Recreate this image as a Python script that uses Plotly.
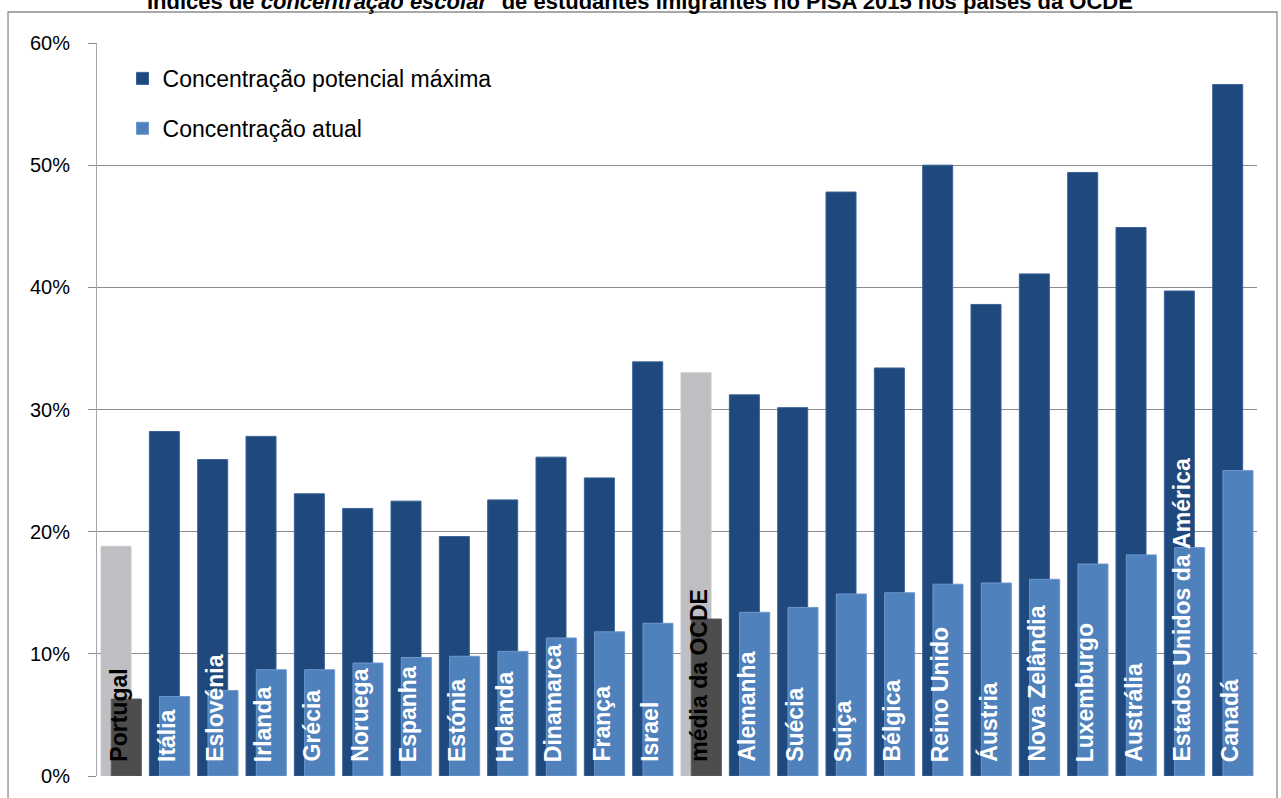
import plotly.graph_objects as go

countries = ["Portugal", "Itália", "Eslovénia", "Irlanda", "Grécia", "Noruega", "Espanha",
             "Estónia", "Holanda", "Dinamarca", "França", "Israel", "média da OCDE",
             "Alemanha", "Suécia", "Suiça", "Bélgica", "Reino Unido", "Áustria",
             "Nova Zelândia", "Luxemburgo", "Austrália", "Estados Unidos da América", "Canadá"]
max_potential = [18.8, 28.2, 25.9, 27.8, 23.1, 21.9, 22.5, 19.6, 22.6, 26.1, 24.4, 33.9, 33.0,
                 31.2, 30.15, 47.8, 33.4, 50.0, 38.6, 41.1, 49.4, 44.9, 39.7, 56.6]
actual = [6.3, 6.5, 7.0, 8.7, 8.7, 9.25, 9.7, 9.8, 10.2, 11.3, 11.8, 12.5, 12.85,
          13.4, 13.8, 14.9, 15.0, 15.7, 15.8, 16.1, 17.35, 18.1, 18.7, 25.0]
highlight = ["Portugal", "média da OCDE"]

title_text = ("<b>Índices de <i>concentração escolar</i><sup>1</sup> de estudantes imigrantes "
              "no PISA 2015 nos países da OCDE</b>")
legend_names = ["Concentração potencial máxima", "Concentração atual"]

DARK = "#1F497D"
LIGHT = "#4F81BD"
GREY_L = "#BFBFC3"
GREY_D = "#4D4D4D"
GRID = "#8C8C8C"
FONT = "Liberation Sans"

norm_idx = [i for i, c in enumerate(countries) if c not in highlight]
hi_idx = [i for i, c in enumerate(countries) if c in highlight]

W = 0.621
OFF_MAX = -0.417
OFF_ACT = -0.204

fig = go.Figure()
fig.add_trace(go.Bar(
    x=[countries[i] for i in norm_idx], y=[max_potential[i] for i in norm_idx],
    name=legend_names[0], marker=dict(color=DARK, line=dict(color="#3A6196", width=1)),
    width=W, offset=OFF_MAX, legendgroup="a", showlegend=True))
fig.add_trace(go.Bar(
    x=[countries[i] for i in hi_idx], y=[max_potential[i] for i in hi_idx],
    name=legend_names[0], marker=dict(color=GREY_L, line=dict(color="#C8C8CC", width=1)),
    width=W, offset=OFF_MAX, showlegend=False))
fig.add_trace(go.Bar(
    x=[countries[i] for i in norm_idx], y=[actual[i] for i in norm_idx],
    name=legend_names[1], marker=dict(color=LIGHT, line=dict(color="#6E98CC", width=1)),
    width=W, offset=OFF_ACT, legendgroup="b", showlegend=True))
fig.add_trace(go.Bar(
    x=[countries[i] for i in hi_idx], y=[actual[i] for i in hi_idx],
    name=legend_names[1], marker=dict(color=GREY_D, line=dict(color="#5A5A5A", width=1)),
    width=W, offset=OFF_ACT, showlegend=False))

annotations = []
for c in countries:
    col = "black" if c in highlight else "white"
    annotations.append(dict(
        x=c, y=0, xref="x", yref="y", text="<b>%s</b>" % c, textangle=-90,
        showarrow=False, yanchor="bottom", xanchor="center", xshift=-3, yshift=12,
        font=dict(family=FONT, size=23, color=col)))

annotations.append(dict(
    x=0.468, y=1.0587, xref="paper", yref="paper", text=title_text, showarrow=False,
    xanchor="center", yanchor="middle", font=dict(family=FONT, size=22, color="black")))

fig.update_layout(
    width=1281, height=798,
    margin=dict(l=97, r=24, t=43, b=22),
    paper_bgcolor="white", plot_bgcolor="white",
    barmode="overlay",
    font=dict(family=FONT, color="black"),
    annotations=annotations,
    legend=dict(x=0.022, y=0.981, xanchor="left", yanchor="top",
                font=dict(family=FONT, size=23, color="black"),
                traceorder="grouped", tracegroupgap=17, bgcolor="rgba(0,0,0,0)"),
    shapes=[dict(type="rect", xref="paper", yref="paper", x0=-0.0767, x1=1.0172,
                 y0=-0.2, y1=1.0423, line=dict(color=GRID, width=1.3), layer="above")],
)
fig.update_xaxes(categoryorder="array", categoryarray=countries, showticklabels=False,
                 showline=False, showgrid=False, ticks="", range=[-0.5, len(countries) - 0.5])
fig.update_yaxes(range=[0, 60], dtick=10, ticksuffix="%", showgrid=True, gridcolor=GRID,
                 gridwidth=1, showline=True, linecolor="#A6A6A6", linewidth=1,
                 ticks="outside", ticklen=8, tickcolor=GRID, ticklabelstandoff=14,
                 tickfont=dict(family=FONT, size=20, color="black"), zeroline=False)

fig.write_html("out.html")
